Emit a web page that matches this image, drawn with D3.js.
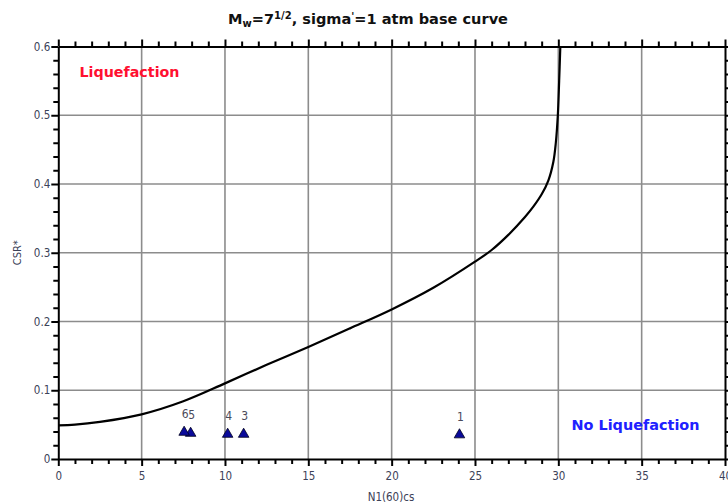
<!DOCTYPE html>
<html>
<head>
<meta charset="utf-8">
<script src="https://cdn.jsdelivr.net/npm/d3@7"></script>
<style>
  html, body { margin: 0; padding: 0; background: #fff; }
  svg { display: block; }
  text { font-family: "DejaVu Sans Condensed", "DejaVu Sans", sans-serif; }
</style>
</head>
<body>
<div id="chart"></div>
<script>
// Base curve: corrected penetration resistance vs. cyclic stress ratio
const curveN   = [0, 1, 2.5, 5, 7.5, 10, 12.5, 15, 17.5, 20, 22.5, 25, 26, 27, 28, 28.5, 29, 29.4, 29.7, 29.85, 29.97, 30.05, 30.12];
const curveCSR = [0.049, 0.050, 0.054, 0.065, 0.084, 0.110, 0.137, 0.163, 0.190, 0.2175, 0.249, 0.287, 0.304, 0.326, 0.352, 0.367, 0.385, 0.405, 0.432, 0.46, 0.50, 0.55, 0.60];

// Test samples
const sampleLabels = ["1", "3", "4", "5", "6"];
const sampleN      = [24.07, 11.12, 10.16, 7.94, 7.55];
const sampleCSR    = [0.0352, 0.036, 0.036, 0.0374, 0.0389];

// Axis ticks
const xTicks = [0, 5, 10, 15, 20, 25, 30, 35, 40];
const xTickLabels = ["0", "5", "10", "15", "20", "25", "30", "35", "40"];
const yTicks = [0, 0.1, 0.2, 0.3, 0.4, 0.5, 0.6];
const yTickLabels = ["0", "0.1", "0.2", "0.3", "0.4", "0.5", "0.6"];

const W = 728, H = 504;
const m = { left: 58.3, right: 3, top: 46.5, bottom: 45 };

const svg = d3.select("#chart").append("svg")
  .attr("width", W).attr("height", H);

const x = d3.scaleLinear().domain([0, 40]).range([m.left, W - m.right]);
const y = d3.scaleLinear().domain([0, 0.6]).range([H - m.bottom, m.top]);

const x0 = x.range()[0], x1 = x.range()[1];
const y0 = y.range()[0], y1 = y.range()[1];

// Gridlines
const grid = svg.append("g").attr("stroke", "#8c8c8c").attr("stroke-width", 1.6);
grid.selectAll(".gx").data(xTicks.slice(1, -1)).join("line")
  .attr("x1", d => x(d)).attr("x2", d => x(d)).attr("y1", y0).attr("y2", y1);
grid.selectAll(".gy").data(yTicks.slice(1, -1)).join("line")
  .attr("y1", d => y(d)).attr("y2", d => y(d)).attr("x1", x0).attr("x2", x1);

// Axes on all four sides, ticks pointing outward
const xMinor = d3.range(0, 41, 1).filter(v => v % 5 !== 0);
const yMinor = d3.range(0, 31, 1).map(v => v * 0.02).filter((v, i) => i % 5 !== 0);

function styleAxis(g) {
  g.select(".domain").attr("stroke", "#000").attr("stroke-width", 2);
  g.selectAll(".tick line").attr("stroke", "#000").attr("stroke-width", 2);
  g.selectAll(".tick text").attr("fill", "#3c4258").style("font-size", "11.5px")
    .style("font-family", "'DejaVu Sans Condensed', 'DejaVu Sans', sans-serif");
}

function addAxis(axisGen, scale, major, minor, labels, transform, showLabels) {
  const gMinor = svg.append("g").attr("transform", transform)
    .call(axisGen(scale).tickValues(minor).tickSize(5).tickSizeOuter(0).tickFormat(""));
  gMinor.select(".domain").remove();
  gMinor.selectAll(".tick line").attr("stroke", "#000").attr("stroke-width", 2);
  const g = svg.append("g").attr("transform", transform)
    .call(axisGen(scale).tickValues(major).tickSize(7).tickSizeOuter(0)
      .tickFormat((d, i) => showLabels ? labels[i] : ""));
  styleAxis(g);
  return g;
}

const gx = addAxis(d3.axisBottom, x, xTicks, xMinor, xTickLabels, `translate(0,${y0})`, true);
gx.selectAll(".tick text").attr("y", 13);
addAxis(d3.axisTop, x, xTicks, xMinor, xTickLabels, `translate(0,${y1})`, false);
const gy = addAxis(d3.axisLeft, y, yTicks, yMinor, yTickLabels, `translate(${x0},0)`, true);
gy.selectAll(".tick text").attr("x", -8);
addAxis(d3.axisRight, y, yTicks, yMinor, yTickLabels, `translate(${x1},0)`, false);

// Base curve
const line = d3.line().x(d => x(d[0])).y(d => y(d[1])).curve(d3.curveCatmullRom.alpha(0.5));
svg.append("path")
  .datum(curveN.map((n, i) => [n, curveCSR[i]]))
  .attr("d", line)
  .attr("fill", "none").attr("stroke", "#000").attr("stroke-width", 2.2);

// Sample markers
const tri = d3.symbol().type(d3.symbolTriangle).size(48);
const samples = sampleN.map((n, i) => ({ n, csr: sampleCSR[i], label: sampleLabels[i] }));
svg.append("g").selectAll("path").data(samples).join("path")
  .attr("transform", d => `translate(${x(d.n)},${y(d.csr)})`)
  .attr("d", tri)
  .attr("fill", "#0a0a9a").attr("stroke", "#000020").attr("stroke-width", 0.8);
svg.append("g").selectAll("text").data(samples).join("text")
  .attr("x", d => x(d.n) + 1)
  .attr("y", d => y(d.csr) - 14)
  .attr("text-anchor", "middle")
  .attr("fill", "#4a4a5a")
  .style("font-size", "12px")
  .text(d => d.label);

// Region labels
svg.append("text")
  .attr("x", 79.5).attr("y", 77)
  .attr("fill", "#ff1030").attr("font-weight", "bold")
  .style("font-size", "13.5px")
  .attr("textLength", 100).attr("lengthAdjust", "spacingAndGlyphs")
  .text("Liquefaction");
svg.append("text")
  .attr("x", 571.5).attr("y", 430)
  .attr("fill", "#2020ff").attr("font-weight", "bold")
  .style("font-size", "13.5px")
  .attr("textLength", 128).attr("lengthAdjust", "spacingAndGlyphs")
  .text("No Liquefaction");

// Title
const title = svg.append("text")
  .attr("x", 368).attr("y", 24)
  .attr("text-anchor", "middle")
  .attr("font-weight", "bold")
  .attr("fill", "#111")
  .style("font-size", "14.5px")
  .attr("textLength", 280).attr("lengthAdjust", "spacingAndGlyphs");
title.append("tspan").text("M");
title.append("tspan").attr("dy", 3).style("font-size", "10px").text("w");
title.append("tspan").attr("dy", -3).text("=7");
title.append("tspan").attr("dy", -5).style("font-size", "10px").text("1/2");
title.append("tspan").attr("dy", 5).text(", sigma");
title.append("tspan").attr("dy", -4).style("font-size", "10px").text("'");
title.append("tspan").attr("dy", 4).text("=1 atm base curve");

// Axis titles
svg.append("text")
  .attr("x", 391).attr("y", 501)
  .attr("text-anchor", "middle")
  .attr("fill", "#3c4258")
  .style("font-size", "11.5px")
  .text("N1(60)cs");
svg.append("text")
  .attr("transform", `translate(21,${(y0 + y1) / 2}) rotate(-90)`)
  .attr("text-anchor", "middle")
  .attr("fill", "#3c4258")
  .style("font-size", "11px")
  .text("CSR*");
</script>
</body>
</html>
